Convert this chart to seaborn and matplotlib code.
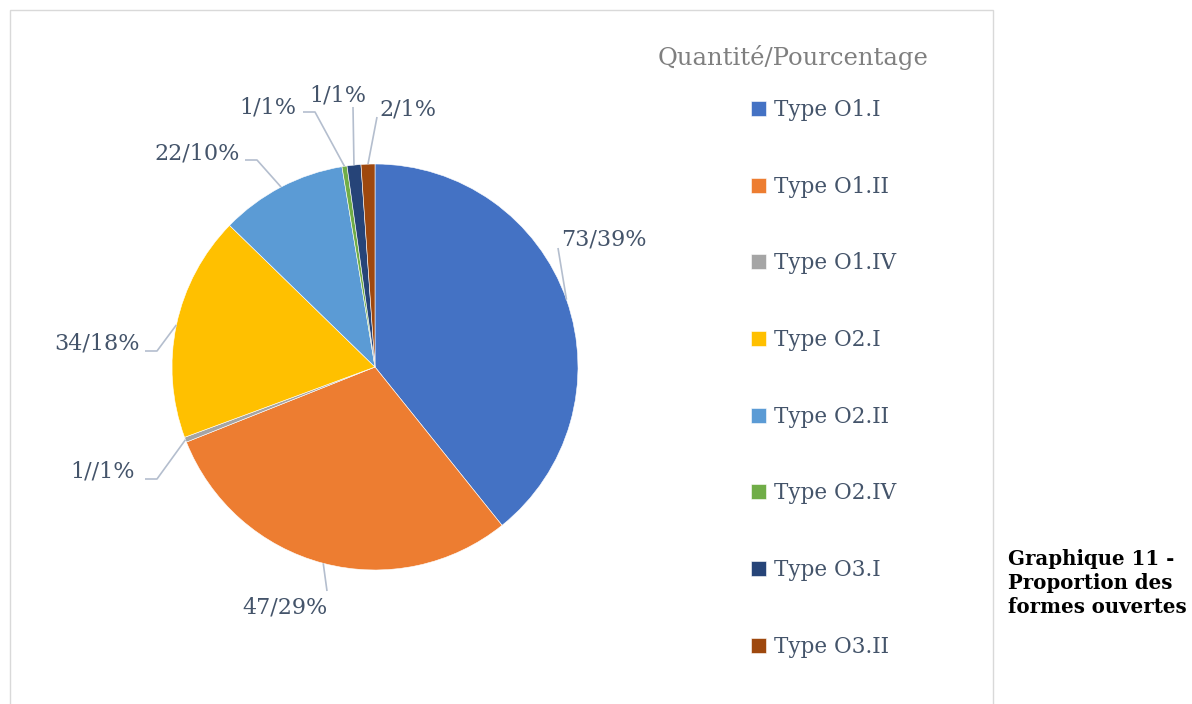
import matplotlib
matplotlib.use("Agg")
import matplotlib.pyplot as plt
import seaborn as sns
from matplotlib.patches import Rectangle
import numpy as np

# data
categories = ["Type O1.I", "Type O1.II", "Type O1.IV", "Type O2.I",
              "Type O2.II", "Type O2.IV", "Type O3.I", "Type O3.II"]
slice_share = [39.2, 29.7, 0.4, 17.9, 10.1, 0.4, 1.1, 1.1]
label_texts = ["73/39%", "47/29%", "1//1%", "34/18%", "22/10%", "1/1%", "1/1%", "2/1%"]
palette_hex = ["#4472C4", "#ED7D31", "#A5A5A5", "#FFC000",
               "#5B9BD5", "#70AD47", "#264478", "#9E480E"]

# layout (pixels in the 1192x704 canvas)
W, H = 1192, 704
CX, CY, R = 375, 367, 203
label_pos = [(604, 240), (285, 607), (103, 472), (97, 343),
             (197, 153), (268, 107), (338, 95), (408, 110)]
leader_elbow = [None, None, (157, 479), (157, 351), (257, 160), (315, 112), None, None]
leader_end = [(558, 248), (327, 591), (145, 479), (145, 351),
              (245, 160), (303, 112), (353, 107), (377, 117)]

TEXT_COLOR = "#44546A"
LEADER_COLOR = "#B4BECE"

sns.set_style("white")
plt.rcParams["font.family"] = ["DejaVu Serif", "DejaVu Sans"]
colors = sns.color_palette(palette_hex)


def px(p):
    return ((p[0] - CX) / R, (CY - p[1]) / R)


fig = plt.figure(figsize=(W / 100, H / 100), dpi=100)
fig.patches.append(Rectangle((10 / W, -0.01), 983 / W, (H - 10) / H + 0.01,
                             transform=fig.transFigure, fill=False,
                             edgecolor="#D9D9D9", linewidth=1.0))

ax = fig.add_axes([(CX - R) / W, (H - CY - R) / H, 2 * R / W, 2 * R / H])
wedges, _ = ax.pie(slice_share, colors=colors, startangle=90, counterclock=False,
                   radius=1, wedgeprops=dict(edgecolor="white", linewidth=0.4))
ax.set_xlim(-1, 1)
ax.set_ylim(-1, 1)
ax.axis("off")

for w, txt, pos, elbow, end in zip(wedges, label_texts, label_pos, leader_elbow, leader_end):
    mid = np.deg2rad((w.theta1 + w.theta2) / 2)
    pts = [(np.cos(mid), np.sin(mid))]
    if elbow is not None:
        pts.append(px(elbow))
    pts.append(px(end))
    xs, ys = zip(*pts)
    ax.plot(xs, ys, color=LEADER_COLOR, lw=1.2, clip_on=False, solid_capstyle="butt")
    tx, ty = px(pos)
    ax.text(tx, ty, txt, ha="center", va="center", fontsize=16, color=TEXT_COLOR)

fig.text(793 / W, 1 - 57 / H, "Quantité/Pourcentage", ha="center", va="center",
         fontsize=17.5, color="#7F7F7F")

fig.legend(wedges, categories, loc="upper left", bbox_to_anchor=(751 / W, 1 - 99 / H),
           frameon=False, fontsize=15.5, labelcolor=TEXT_COLOR, handlelength=0.7,
           handleheight=0.7, handletextpad=0.35, labelspacing=2.54,
           borderpad=0, borderaxespad=0)

fig.text(1008 / W, 1 - 549 / H, "Graphique 11 -\nProportion des\nformes ouvertes",
         ha="left", va="top", fontsize=14.2, fontweight="bold", color="black",
         linespacing=1.25)

fig.savefig("out.png", dpi=100)
